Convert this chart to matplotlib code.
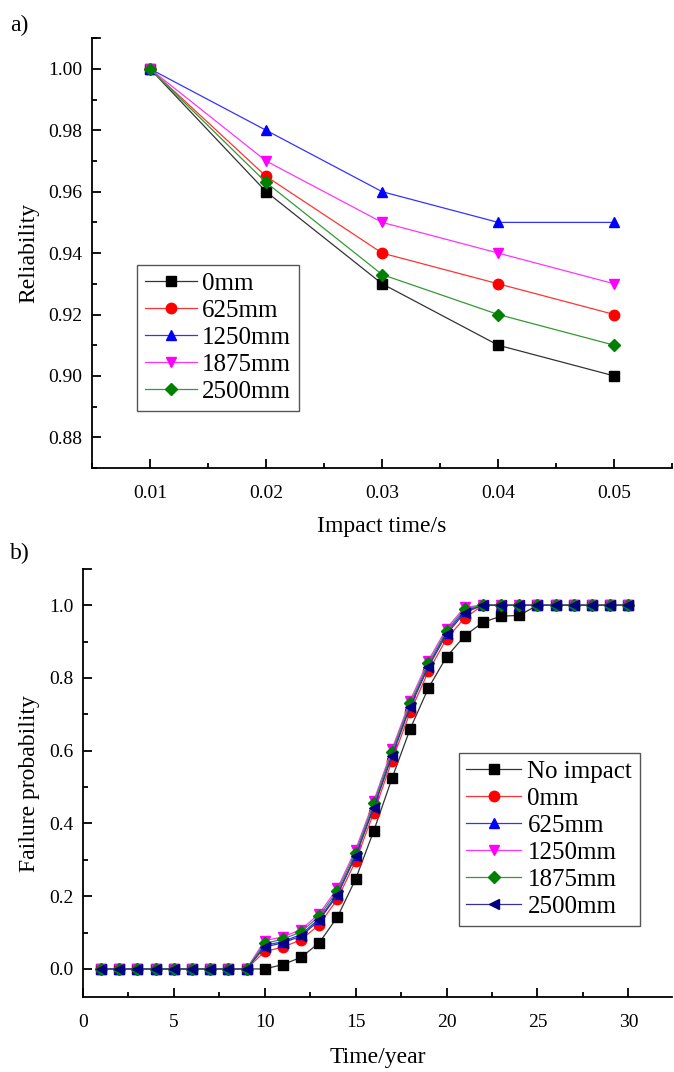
import matplotlib
matplotlib.use("Agg")
import matplotlib.pyplot as plt
from matplotlib.ticker import MultipleLocator

plt.rcParams['font.family'] = ['Liberation Serif', 'DejaVu Serif']

# ---- panel a data: reliability vs impact time
impact_time = [0.01, 0.02, 0.03, 0.04, 0.05]
rel_0mm = [1.00, 0.960, 0.930, 0.910, 0.900]
rel_625mm = [1.00, 0.965, 0.940, 0.930, 0.920]
rel_1250mm = [1.00, 0.980, 0.960, 0.950, 0.950]
rel_1875mm = [1.00, 0.970, 0.950, 0.940, 0.930]
rel_2500mm = [1.00, 0.963, 0.933, 0.920, 0.910]

# ---- panel b data: failure probability vs time
years = list(range(1, 31))
zeros9 = [0.0] * 9
ones = [1.0] * 8
fp_none = [0.0] * 10 + [0.012, 0.032, 0.072, 0.143, 0.247, 0.380, 0.524, 0.660,
                        0.772, 0.858, 0.916, 0.953, 0.970, 0.972, 1.0, 1.0, 1.0, 1.0, 1.0, 1.0]
fp_0mm = zeros9 + [0.048, 0.060, 0.080, 0.122, 0.192, 0.297, 0.430, 0.572, 0.706,
                   0.818, 0.908, 0.965, 1.0] + ones
fp_625mm = zeros9 + [0.065, 0.075, 0.095, 0.138, 0.207, 0.313, 0.447, 0.590, 0.725,
                     0.835, 0.925, 0.985, 1.0] + ones
fp_1250mm = zeros9 + [0.078, 0.088, 0.108, 0.152, 0.222, 0.328, 0.462, 0.604, 0.738,
                      0.848, 0.936, 0.995, 1.0] + ones
fp_1875mm = zeros9 + [0.070, 0.082, 0.102, 0.145, 0.215, 0.320, 0.455, 0.597, 0.730,
                      0.840, 0.930, 0.990, 1.0] + ones
fp_2500mm = zeros9 + [0.060, 0.072, 0.090, 0.134, 0.203, 0.310, 0.443, 0.585, 0.720,
                      0.830, 0.920, 0.980, 1.0] + ones

TICK_FS = 14
LABEL_FS = 17
LEG_FS = 18


def style_axis(ax):
    ax.spines['top'].set_visible(False)
    ax.spines['right'].set_visible(False)
    for s in ('left', 'bottom'):
        ax.spines[s].set_linewidth(1.3)
    ax.tick_params(which='both', direction='in', labelsize=TICK_FS, width=1.3)
    ax.tick_params(which='major', length=6.5)
    ax.tick_params(which='minor', length=3.5)
    ax.tick_params(axis='x', which='major', pad=12)
    ax.tick_params(axis='y', which='major', pad=7)
    # little cap at the top end of the y axis
    ax.plot([0, 0.014], [1, 1], transform=ax.transAxes, color='black',
            lw=1.3, clip_on=False)


def style_legend(leg):
    leg.get_frame().set_edgecolor('#555555')
    leg.get_frame().set_linewidth(1.0)


fig = plt.figure(figsize=(6.74, 10.72), dpi=100)

# ---------------- panel a
ax1 = fig.add_axes([0.1365, 0.5634, 0.861, 0.401])
series_a = [
    (rel_0mm, '0mm', '#333333', 'black', 's'),
    (rel_625mm, '625mm', '#ff3333', 'red', 'o'),
    (rel_1250mm, '1250mm', '#3333ff', 'blue', '^'),
    (rel_1875mm, '1875mm', '#ff33ff', 'magenta', 'v'),
    (rel_2500mm, '2500mm', '#339933', 'green', 'D'),
]
for vals, lab, lc, mc, mk in series_a:
    ax1.plot(impact_time, vals, color=lc, lw=0.9, marker=mk, ms=7.5 if mk != 'D' else 6.5,
             mfc=mc, mec=mc, label=lab)
ax1.set_xlim(0.005, 0.055)
ax1.set_ylim(0.870, 1.010)
ax1.xaxis.set_major_locator(MultipleLocator(0.01))
ax1.xaxis.set_minor_locator(MultipleLocator(0.005))
ax1.yaxis.set_major_locator(MultipleLocator(0.02))
ax1.yaxis.set_minor_locator(MultipleLocator(0.01))
ax1.yaxis.set_major_formatter(plt.FormatStrFormatter('%.2f'))
ax1.xaxis.set_major_formatter(plt.FormatStrFormatter('%.2f'))
style_axis(ax1)
ax1.set_xlabel('Impact time/s', fontsize=LABEL_FS, labelpad=10)
ax1.set_ylabel('Reliability', fontsize=LABEL_FS, labelpad=6)
leg1 = ax1.legend(loc='upper left', bbox_to_anchor=(0.078, 0.472), fontsize=LEG_FS,
                  handlelength=2.1, handletextpad=0.2, labelspacing=0.18,
                  borderpad=0.3, fancybox=False, framealpha=1, borderaxespad=0)
style_legend(leg1)
fig.text(0.015, 0.976, 'a)', fontsize=LABEL_FS, va='center')

# ---------------- panel b
ax2 = fig.add_axes([0.123, 0.070, 0.874, 0.399])
series_b = [
    (fp_none, 'No impact', '#333333', 'black', 's'),
    (fp_0mm, '0mm', '#ff3333', 'red', 'o'),
    (fp_625mm, '625mm', '#3333ff', 'blue', '^'),
    (fp_1250mm, '1250mm', '#ff33ff', 'magenta', 'v'),
    (fp_1875mm, '1875mm', '#339933', 'green', 'D'),
    (fp_2500mm, '2500mm', '#333399', '#000080', '<'),
]
for vals, lab, lc, mc, mk in series_b:
    ax2.plot(years, vals, color=lc, lw=0.9, marker=mk, ms=7.5 if mk != 'D' else 6.5,
             mfc=mc, mec=mc, label=lab)
ax2.set_xlim(0, 32.4)
ax2.set_ylim(-0.077, 1.099)
ax2.xaxis.set_major_locator(MultipleLocator(5))
ax2.xaxis.set_minor_locator(MultipleLocator(2.5))
ax2.yaxis.set_major_locator(MultipleLocator(0.2))
ax2.yaxis.set_minor_locator(MultipleLocator(0.1))
ax2.yaxis.set_major_formatter(plt.FormatStrFormatter('%.1f'))
style_axis(ax2)
ax2.set_xlabel('Time/year', fontsize=LABEL_FS, labelpad=12)
ax2.set_ylabel('Failure probability', fontsize=LABEL_FS, labelpad=6)
leg2 = ax2.legend(loc='upper left', bbox_to_anchor=(0.638, 0.570), fontsize=LEG_FS,
                  handlelength=2.2, handletextpad=0.25, labelspacing=0.18,
                  borderpad=0.3, fancybox=False, framealpha=1, borderaxespad=0)
style_legend(leg2)
fig.text(0.015, 0.484, 'b)', fontsize=LABEL_FS, va='center')

fig.savefig('out.png', dpi=100)
